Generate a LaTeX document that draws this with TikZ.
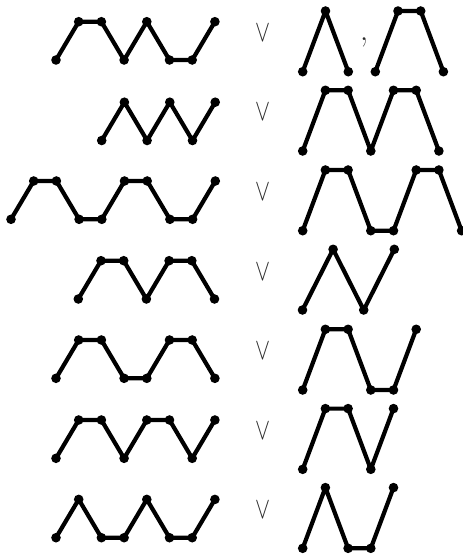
\documentclass[tikz,border=0pt]{standalone}
\usepackage{amsmath,amssymb}
\usepackage{xcolor}
\usepackage{tikz}
\definecolor{ink}{HTML}{000000}
\definecolor{relgray}{HTML}{2A2A2A}
\newcommand{\walk}[6]{\begin{scope}[shift={(#2,#3)},x=#4pt,y={(0pt,#5pt)}]
  \draw[walkline] (0,0) node[dot] (#1-0) {} \foreach \a/\b [count=\i] in {#6}{-- ++(\a,\b) node[dot] (#1-\i) {}};
  \end{scope}}
\newcommand{\orsign}[2]{\node[rel] (#1) at (262.5,#2) {\resizebox{15pt}{17pt}{$\vee$}};}
\tikzset{walkline/.style={ink,line width=4.2pt,line join=round,line cap=round},
  dot/.style={circle,fill=ink,inner sep=0pt,minimum size=9.6pt},
  rel/.style={relgray,inner sep=0pt}}

\begin{document}
\begin{tikzpicture}[x=1pt,y=-1pt]
\useasboundingbox (0,0) rectangle (463,554);
\walk{l1}{56}{60}{22.7}{38.3}{1/1,1/0,1/-1,1/1,1/-1,1/0,1/1}
\walk{r1a}{302.7}{71.7}{22.8}{60.7}{1/1,1/-1}
\walk{r1b}{375.3}{71.7}{22.7}{60.7}{1/1,1/0,1/-1}
\walk{l2}{101.7}{140.5}{22.7}{38.3}{1/1,1/-1,1/1,1/-1,1/1}
\walk{r2}{302.7}{151}{22.7}{60.7}{1/1,1/0,1/-1,1/1,1/0,1/-1}
\walk{l3}{11}{219.3}{22.7}{38.3}{1/1,1/0,1/-1,1/0,1/1,1/0,1/-1,1/0,1/1}
\walk{r3}{302.7}{230.7}{22.7}{60.7}{1/1,1/0,1/-1,1/0,1/1,1/0,1/-1}
\walk{l4}{78.3}{299}{22.7}{38.3}{1/1,1/0,1/-1,1/1,1/0,1/-1}
\walk{r4}{302.5}{310}{30.6}{60.7}{1/1,1/-1,1/1}
\walk{l5}{56}{378.3}{22.7}{38.3}{1/1,1/0,1/-1,1/0,1/1,1/0,1/-1}
\walk{r5}{302.7}{390}{22.7}{60.7}{1/1,1/0,1/-1,1/0,1/1}
\walk{l6}{56}{458.3}{22.7}{38.3}{1/1,1/0,1/-1,1/1,1/0,1/-1,1/1}
\walk{r6}{302.7}{469.3}{22.7}{60.7}{1/1,1/0,1/-1,1/1}
\walk{l7}{56}{537.7}{22.7}{38.3}{1/1,1/-1,1/0,1/1,1/-1,1/0,1/1}
\walk{r7}{302.7}{548.3}{22.7}{60.7}{1/1,1/-1,1/0,1/1}
\orsign{or1}{32.5} \orsign{or2}{112} \orsign{or3}{192} \orsign{or4}{271.5}
\orsign{or5}{351} \orsign{or6}{430.8} \orsign{or7}{510.2}
\node[rel,anchor=base,font=\fontsize{34}{34}\selectfont] (sep) at (364,40.8) {,};
\end{tikzpicture}
\end{document}
